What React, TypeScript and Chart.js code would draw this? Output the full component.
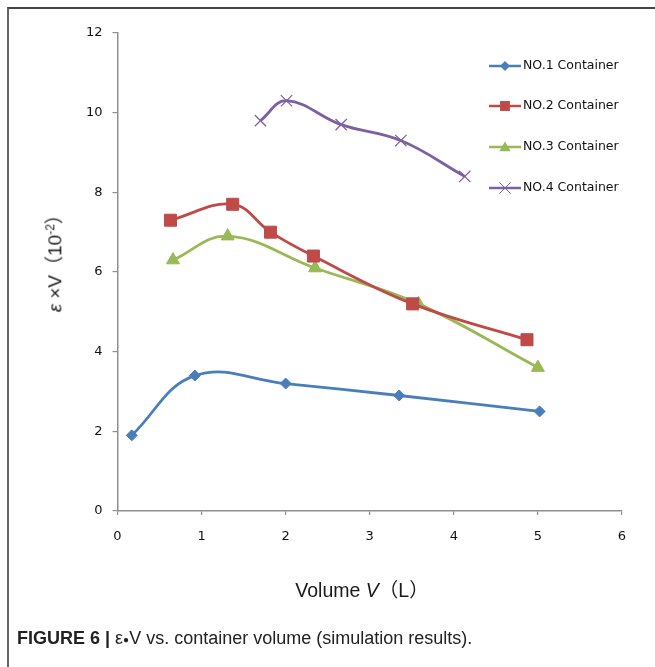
import React, { useEffect, useRef } from 'react';
import { Chart, registerables } from 'chart.js';

Chart.register(...registerables);

// ---- data ----
const xTickValues = [0, 1, 2, 3, 4, 5, 6];
const yTickValues = [0, 2, 4, 6, 8, 10, 12];
const seriesNames = ['NO.1 Container', 'NO.2 Container', 'NO.3 Container', 'NO.4 Container'];

const c1Volume = [0.17, 0.92, 2.0, 3.35, 5.02];
const c1Value = [1.9, 3.4, 3.2, 2.9, 2.5];
const c2Volume = [0.63, 1.37, 1.82, 2.33, 3.51, 4.87];
const c2Value = [7.3, 7.7, 7.0, 6.4, 5.2, 4.3];
const c3Volume = [0.66, 1.31, 2.35, 3.58, 5.0];
const c3Value = [6.3, 6.9, 6.1, 5.2, 3.6];
const c4Volume = [1.7, 2.01, 2.66, 3.37, 4.13];
const c4Value = [9.8, 10.3, 9.7, 9.3, 8.4];

// ---- styles ----
const colors = ['#4A7EBB', '#BE4B48', '#98B954', '#7D60A0'];
const pointStyles = ['rectRot', 'rect', 'triangle', 'crossRot'];
const pointRadii = [5.5, 8.5, 7.5, 8];
const legendRowY = [66, 106, 147, 188];
const legendLineX0 = 489;
const legendLineX1 = 521;
const legendTextX = 523;

function drawMarker(ctx: CanvasRenderingContext2D, style: string, x: number, y: number, r: number, color: string) {
  ctx.save();
  ctx.fillStyle = color;
  ctx.strokeStyle = color;
  ctx.lineWidth = 1;
  ctx.beginPath();
  if (style === 'rectRot') {
    ctx.moveTo(x - r, y);
    ctx.lineTo(x, y - r);
    ctx.lineTo(x + r, y);
    ctx.lineTo(x, y + r);
    ctx.closePath();
    ctx.fill();
  } else if (style === 'rect') {
    const s = Math.SQRT1_2 * r;
    ctx.rect(x - s, y - s, 2 * s, 2 * s);
    ctx.fill();
  } else if (style === 'triangle') {
    ctx.moveTo(x, y - r);
    ctx.lineTo(x + r * 0.866, y + r / 2);
    ctx.lineTo(x - r * 0.866, y + r / 2);
    ctx.closePath();
    ctx.fill();
  } else {
    const s = Math.SQRT1_2 * r;
    ctx.moveTo(x - s, y - s);
    ctx.lineTo(x + s, y + s);
    ctx.moveTo(x + s, y - s);
    ctx.lineTo(x - s, y + s);
    ctx.stroke();
  }
  ctx.restore();
}

const legendPlugin = {
  id: 'customLegend',
  afterDraw(chart: any) {
    const ctx: CanvasRenderingContext2D = chart.ctx;
    ctx.save();
    seriesNames.forEach((name, i) => {
      const y = legendRowY[i];
      ctx.strokeStyle = colors[i];
      ctx.lineWidth = 2.5;
      ctx.beginPath();
      ctx.moveTo(legendLineX0, y);
      ctx.lineTo(legendLineX1, y);
      ctx.stroke();
      const mr = i === 1 ? 7 : i === 2 ? 6.5 : i === 3 ? 8 : 5;
      drawMarker(ctx, pointStyles[i], (legendLineX0 + legendLineX1) / 2, i === 2 ? y + 1 : y, mr, colors[i]);
      ctx.fillStyle = '#111';
      ctx.font = '12.5px "DejaVu Sans"';
      ctx.textBaseline = 'middle';
      ctx.textAlign = 'left';
      ctx.fillText(name, legendTextX, y);
    });
    ctx.restore();
  },
};

const toPoints = (xs: number[], ys: number[]) => xs.map((x, i) => ({ x, y: ys[i] }));

export default function App() {
  const canvasRef = useRef<HTMLCanvasElement>(null);

  useEffect(() => {
    if (!canvasRef.current) return;
    const seriesData = [
      toPoints(c1Volume, c1Value),
      toPoints(c2Volume, c2Value),
      toPoints(c3Volume, c3Value),
      toPoints(c4Volume, c4Value),
    ];
    const tickFont = { family: 'DejaVu Sans', size: 13 };
    const chart = new Chart(canvasRef.current, {
      type: 'line',
      data: {
        datasets: seriesData.map((d, i) => ({
          label: seriesNames[i],
          data: d,
          borderColor: colors[i],
          backgroundColor: colors[i],
          borderWidth: 2.8,
          tension: 0.4,
          pointStyle: pointStyles[i] as any,
          pointRadius: pointRadii[i],
          pointBorderWidth: i === 3 ? 1.2 : 1,
          pointBackgroundColor: colors[i],
          pointBorderColor: colors[i],
          fill: false,
        })),
      },
      options: {
        animation: false,
        responsive: false,
        layout: { padding: { left: 67.5, right: 33, top: 33, bottom: 126 } },
        plugins: { legend: { display: false }, tooltip: { enabled: false } },
        scales: {
          x: {
            type: 'linear',
            min: 0,
            max: 6,
            afterBuildTicks: (s: any) => { s.ticks = xTickValues.map((v) => ({ value: v })); },
            afterFit: (s: any) => { s.height = 30; },
            ticks: { color: '#111', font: tickFont, padding: 14 },
            grid: { drawOnChartArea: false, drawTicks: true, tickLength: 4, color: '#8f8f8f', lineWidth: 1.2 },
            border: { display: true, color: '#8f8f8f', width: 1.5 },
          },
          y: {
            type: 'linear',
            min: 0,
            max: 12,
            afterBuildTicks: (s: any) => { s.ticks = yTickValues.map((v) => ({ value: v })); },
            afterFit: (s: any) => { s.width = 50; },
            ticks: { color: '#111', font: tickFont, padding: 10 },
            grid: { drawOnChartArea: false, drawTicks: true, tickLength: 5, color: '#8f8f8f', lineWidth: 1.2 },
            border: { display: true, color: '#8f8f8f', width: 1.5 },
          },
        },
      },
      plugins: [legendPlugin],
    });
    return () => chart.destroy();
  }, []);

  return (
    <div style={{ position: 'fixed', left: 0, top: 0, width: 655, height: 667, background: '#fff', overflow: 'hidden' }}>
      <div style={{ position: 'absolute', left: 7, top: 7, width: 660, height: 670, borderLeft: '2px solid #666', borderTop: '2px solid #444' }} />
      <canvas ref={canvasRef} width={655} height={667} style={{ position: 'absolute', left: 0, top: 0, width: 655, height: 667 }} />
      <div style={{ position: 'absolute', left: 262, width: 200, top: 574, textAlign: 'center', fontFamily: '"Liberation Sans", "Noto Sans CJK SC"', fontSize: 19.5, color: '#1a1a1a', whiteSpace: 'nowrap' }}>
        Volume <i>V</i>（L）
      </div>
      <div style={{ position: 'absolute', left: 53, top: 256, width: 0, height: 0 }}>
        <div style={{ position: 'absolute', left: -100, top: -12, width: 200, textAlign: 'center', transform: 'rotate(-90deg)', fontFamily: '"Liberation Sans", "Noto Sans CJK SC"', fontSize: 19, color: '#1a1a1a', whiteSpace: 'nowrap', lineHeight: '24px' }}>
          <i>ε</i> ×V（10<sup style={{ fontSize: 12 }}>-2</sup>）
        </div>
      </div>
      <div style={{ position: 'absolute', left: 17, top: 628, fontFamily: '"Liberation Sans", Arial, sans-serif', fontSize: 18, color: '#222', whiteSpace: 'nowrap' }}>
        <b>FIGURE 6 |</b> ε<span style={{ fontSize: 10, verticalAlign: 'middle' }}>●</span>V vs. container volume (simulation results).
      </div>
    </div>
  );
}
